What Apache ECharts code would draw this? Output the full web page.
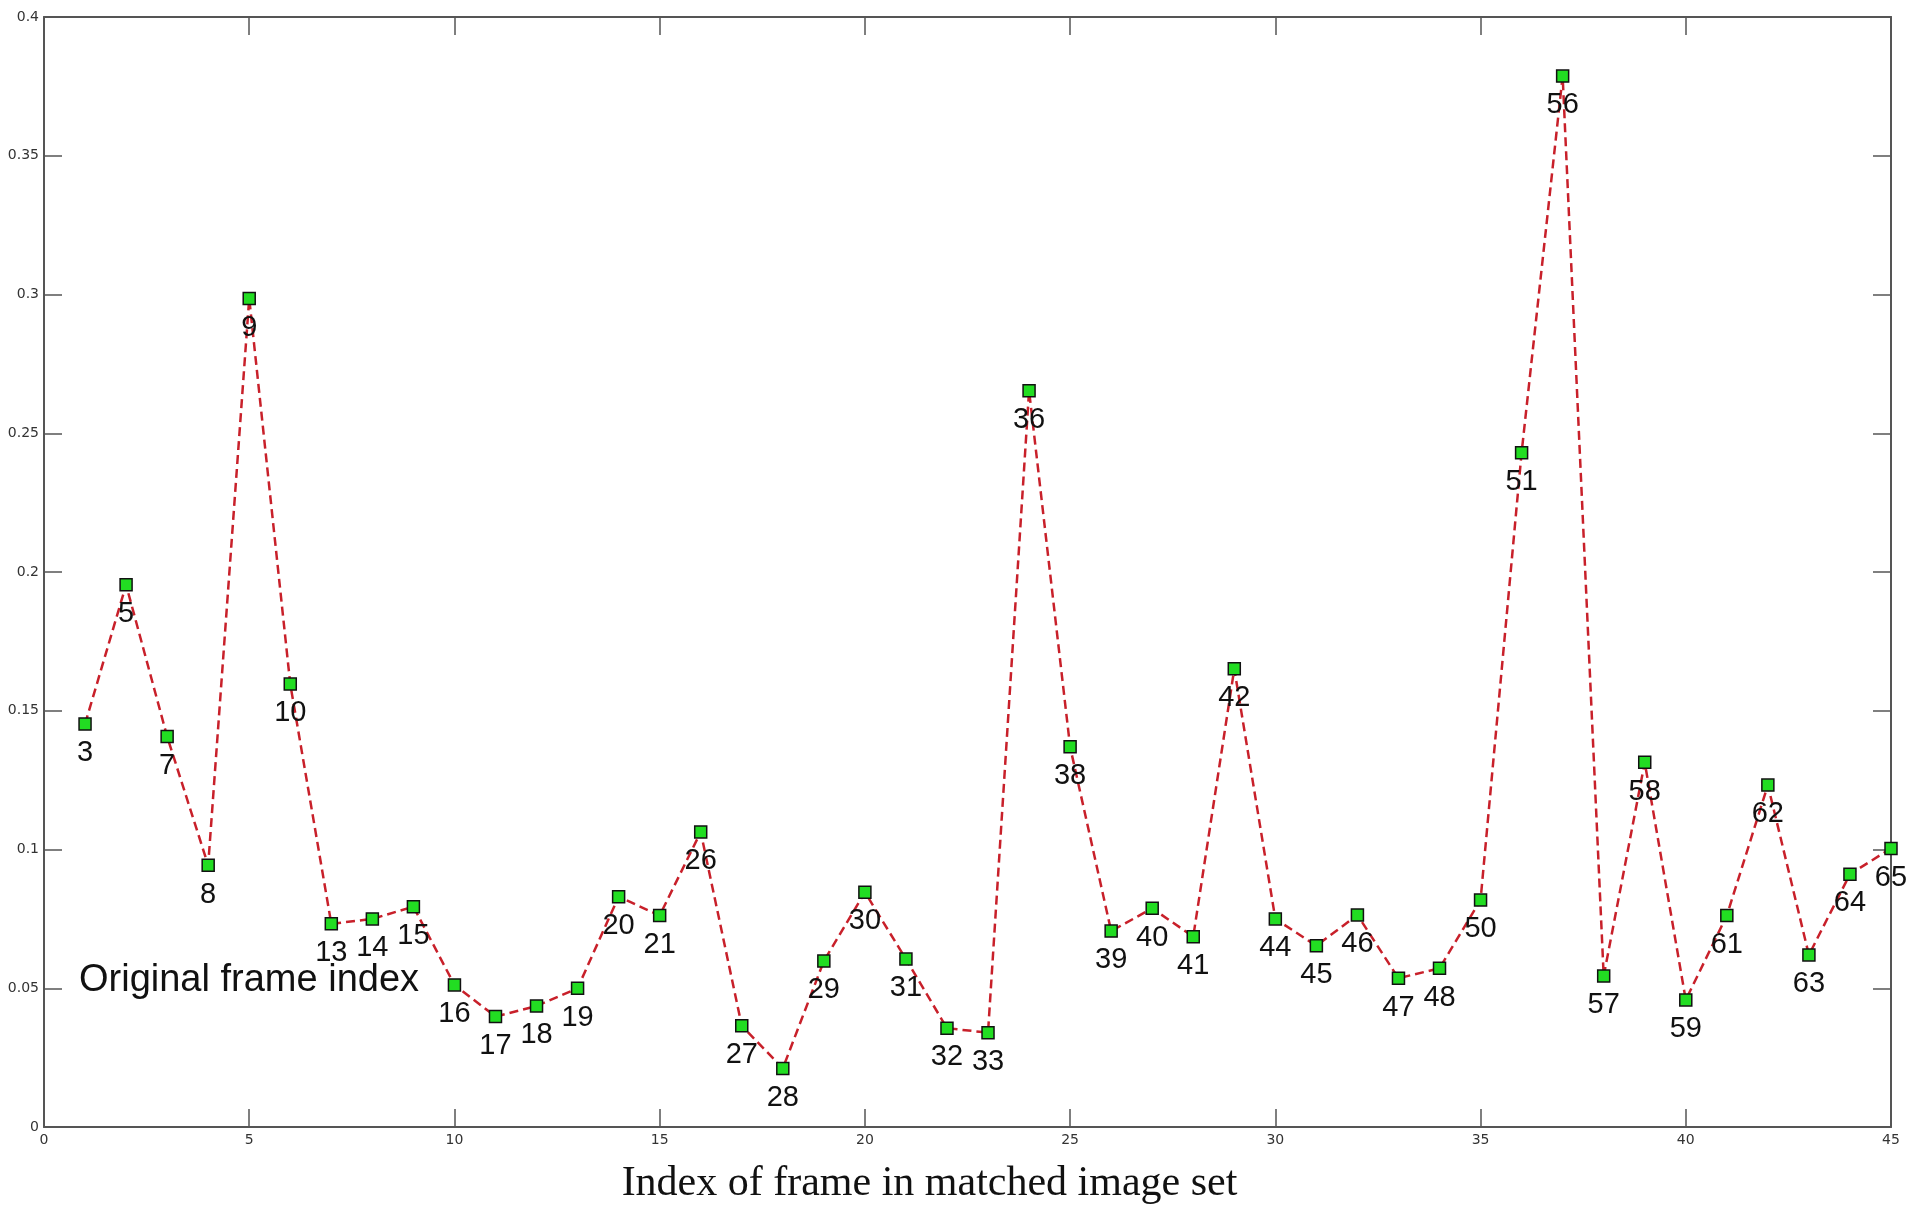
<!DOCTYPE html>
<html>
<head>
<meta charset="utf-8">
<style>
    html, body{ margin: 0; padding: 0; background-color: #fff;}
    #chart1{ width: 1909px; height: 1207px;}
</style>
<script src="https://cdn.jsdelivr.net/npm/echarts@6/dist/echarts.min.js"></script>
</head>
<body>
<div id="chart1"></div>
<script>
    // position in the matched set (x) and the original frame number printed under each point
    var matchIndex = [1,2,3,4,5,6,7,8,9,10,11,12,13,14,15,16,17,18,19,20,21,22,23,24,25,26,27,28,29,30,31,32,33,34,35,36,37,38,39,40,41,42,43,44,45];
    var frameIds = [3,5,7,8,9,10,13,14,15,16,17,18,19,20,21,26,27,28,29,30,31,32,33,36,38,39,40,41,42,44,45,46,47,48,50,51,56,57,58,59,61,62,63,64,65];
    var scores = [0.1452,0.1954,0.1407,0.0943,0.2986,0.1596,0.0732,0.0750,0.0794,0.0512,
                  0.0398,0.0436,0.0500,0.0830,0.0762,0.1063,0.0365,0.0211,0.0598,0.0846,
                  0.0605,0.0356,0.0340,0.2653,0.1370,0.0706,0.0788,0.0686,0.1651,0.0750,
                  0.0653,0.0764,0.0536,0.0572,0.0818,0.2430,0.3787,0.0544,0.1314,0.0458,
                  0.0762,0.1232,0.0620,0.0911,0.1004];
    var xTicks = [0, 45, 5];       // min, max, step
    var yTicks = [0, 0.4, 0.05];

    var chart = echarts.init(document.getElementById('chart1'));

    var axisColor = '#555';
    var tickLabel = {color:'#333', fontSize:14, fontFamily:'DejaVu Sans'};
    var frameAxis = {
        onZero:false,
        lineStyle:{color:axisColor, width:2}
    };
    var innerTick = {inside:true, length:18, lineStyle:{color:axisColor, width:1.5}};

    chart.setOption({
        animation:false,
        backgroundColor:'#fff',
        grid:{left:44, right:18, top:17, bottom:80, outerBoundsMode:'none'},
        xAxis:[{
            type:'value',
            min:xTicks[0], max:xTicks[1], interval:xTicks[2],
            position:'bottom',
            name:'Index of frame in matched image set',
            nameLocation:'middle',
            nameGap:36,
            nameTextStyle:{fontFamily:'Liberation Serif', fontSize:42, color:'#111', padding:[0, 76, 0, 0]},
            axisLine:frameAxis,
            axisTick:innerTick,
            axisLabel:Object.assign({margin:6}, tickLabel),
            splitLine:{show:false}
        },{
            type:'value',
            min:xTicks[0], max:xTicks[1], interval:xTicks[2],
            position:'top',
            axisLine:frameAxis,
            axisTick:innerTick,
            axisLabel:{show:false},
            splitLine:{show:false}
        }],
        yAxis:[{
            type:'value',
            min:yTicks[0], max:yTicks[1], interval:yTicks[2],
            position:'left',
            axisLine:frameAxis,
            axisTick:innerTick,
            axisLabel:Object.assign({margin:5}, tickLabel),
            splitLine:{show:false}
        },{
            type:'value',
            min:yTicks[0], max:yTicks[1], interval:yTicks[2],
            position:'right',
            axisLine:frameAxis,
            axisTick:innerTick,
            axisLabel:{show:false},
            splitLine:{show:false}
        }],
        graphic:[{
            type:'text',
            left:79, top:962,
            style:{text:'Original frame index', fill:'#111', font:'38px "Liberation Sans"'}
        }],
        series:[{
            type:'line',
            data:matchIndex.map(function(x, i){ return [x, scores[i]]; }),
            symbol:'rect',
            symbolSize:12,
            lineStyle:{color:'#c8202a', width:2.5, type:[9,5]},
            itemStyle:{color:'#22dd22', borderColor:'#111', borderWidth:1.5},
            label:{
                show:true,
                position:'bottom',
                distance:8,
                fontFamily:'Liberation Sans',
                fontSize:29,
                color:'#111',
                formatter:function(p){ return frameIds[p.dataIndex]; }
            },
            labelLayout:{hideOverlap:false}
        }]
    });
</script>
</body>
</html>
